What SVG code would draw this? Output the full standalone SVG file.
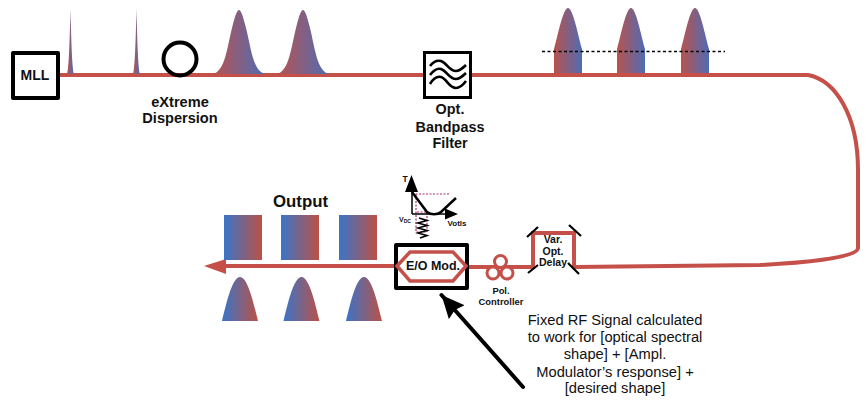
<svg xmlns="http://www.w3.org/2000/svg" width="867" height="402" viewBox="0 0 867 402">
<style>
text{font-family:"Liberation Sans",Arial,sans-serif;fill:#111;text-anchor:middle}
.b{font-weight:700}
.fib{fill:none;stroke:#c5504a;stroke-width:4}
.box{fill:#fff;stroke:#000;stroke-width:4;stroke-linejoin:round}
.mir{stroke:#000;stroke-width:2.2;fill:none}
.dot{stroke:#a8326e;stroke-width:1.200;stroke-dasharray:2 1.500;fill:none}
</style>
<defs>
<linearGradient id="rb"><stop offset="0" stop-color="#b8534f"/><stop offset="1" stop-color="#4f6cb4"/></linearGradient>
<linearGradient id="br"><stop offset="0" stop-color="#3a74c8"/><stop offset="1" stop-color="#bb5146"/></linearGradient>
<path id="wide" d="M-26 0C-14 -3 -12 -26 -7 -46C-4 -58 -2 -64 0 -64C2 -64 4 -58 7 -46C12 -26 14 -3 26 0Z"/>
<path id="tall" d="M-14 0L-14 -24C-10 -38 -5 -65 0 -65C5 -65 10 -38 14 -24L14 0Z"/>
<path id="dome" d="M-18 0C-14 -16 -8 -44 0 -44C8 -44 14 -16 18 0Z"/>
<marker id="head" markerUnits="userSpaceOnUse" markerWidth="26" markerHeight="24" refX="23" refY="10.500" orient="auto"><path d="M0 0L23 10.500L0 21L3 10.500Z" fill="#000"/></marker>
</defs>
<g id="connectors">
<path class="fib" d="M58 75H808C835 80 858 115 858 170V248C858 258 800 263 760 265L574 267"/>
<path class="fib" d="M467 267H533V233H574V267"/>
<path class="fib" d="M396 266H224"/>
<path d="M204 266L226 259V274Z" fill="#c5504a"/>
<path d="M523 387L441.500 295" stroke="#000" stroke-width="4" fill="none" marker-end="url(#head)" stroke-linecap="round"/>
</g>
<g id="pulses-in">
<path d="M67 74C69 70 70 30 70.500 9C71 30 72 70 74 74Z" fill="url(#rb)"/>
<path d="M133 74C135 70 136 30 136.500 9C137 30 138 70 140 74Z" fill="url(#rb)"/>
<use href="#wide" x="239" y="74" fill="url(#rb)"/>
<use href="#wide" x="303" y="74" fill="url(#rb)"/>
</g>
<g id="pulses-filtered">
<use href="#tall" x="568" y="73" fill="url(#rb)"/>
<use href="#tall" x="631" y="73" fill="url(#rb)"/>
<use href="#tall" x="695" y="73" fill="url(#rb)"/>
<path d="M542 51.500H725" stroke="#000" stroke-width="1.300" stroke-dasharray="3 2.500" fill="none"/>
</g>
<g id="output-pulses">
<rect x="224" y="215" width="38" height="45" fill="url(#br)"/>
<rect x="281" y="215" width="38" height="45" fill="url(#br)"/>
<rect x="339" y="215" width="38" height="45" fill="url(#br)"/>
<use href="#dome" x="240" y="321" fill="url(#br)"/>
<use href="#dome" x="301.500" y="321" fill="url(#br)"/>
<use href="#dome" x="364" y="321" fill="url(#br)"/>
<text class="b" x="300.500" y="207" font-size="16.800">Output</text>
</g>
<g id="mll">
<rect class="box" x="13" y="53" width="45" height="45"/>
<text class="b" x="35" y="80" font-size="14">MLL</text>
</g>
<g id="dispersion">
<circle cx="180" cy="59" r="16.500" fill="none" stroke="#000" stroke-width="4"/>
<text class="b" x="180" y="107" font-size="14.600">eXtreme</text>
<text class="b" x="180" y="123" font-size="14.600">Dispersion</text>
</g>
<g id="filter">
<rect x="424.500" y="52.500" width="46" height="45" fill="#fff" stroke="#000" stroke-width="3"/>
<path d="M430 66C433 62 437 60 441 61C447 63 449 71 456 71C460 71 463 68 466 65M430 75C433 71 437 68 441 69C447 71 449 79 456 79C460 79 463 76 466 73M430 84C433 79 437 76 441 77C447 79 449 88 456 88C460 88 463 85 466 81" fill="none" stroke="#000" stroke-width="2.600"/>
<text class="b" x="450" y="114" font-size="14.400">Opt.</text>
<text class="b" x="450" y="131.500" font-size="14.400">Bandpass</text>
<text class="b" x="450" y="148" font-size="14.400">Filter</text>
</g>
<g id="delay">
<path class="mir" d="M527 237L538 227M569 225L581 236M528 273L538 265M568 263L579 274"/>
<text class="b" x="553" y="243" font-size="10.500">Var.</text>
<text class="b" x="553" y="255" font-size="10.500">Opt.</text>
<text class="b" x="553" y="266" font-size="10.500">Delay</text>
</g>
<g id="polarization">
<circle cx="500.500" cy="261.500" r="6" fill="#fff" stroke="#c5504a" stroke-width="3"/>
<circle cx="493" cy="273" r="6" fill="#fff" stroke="#c5504a" stroke-width="3"/>
<circle cx="507" cy="273" r="6" fill="#fff" stroke="#c5504a" stroke-width="3"/>
<text class="b" x="501" y="294" font-size="9.400">Pol.</text>
<text class="b" x="501" y="305" font-size="9.400">Controller</text>
</g>
<g id="modulator">
<rect class="box" x="396" y="245" width="71" height="43"/>
<path d="M397 266L410 252H453L466 266L453 281H410Z" fill="none" stroke="#c5504a" stroke-width="3.500"/>
<text class="b" x="433" y="270" font-size="12.500">E/O Mod.</text>
</g>
<g id="transfer">
<path class="dot" d="M412 194H450M416 194V232H427V212H416"/>
<path d="M412 214V185M412 214H450" stroke="#000" stroke-width="1.500" fill="none"/>
<path d="M411.500 175L405 192H418Z M458 214L445 208.500V219.500Z" fill="#000"/>
<path d="M412 192L427 212C431 215 437 215 441 212L456 198" fill="none" stroke="#000" stroke-width="2.500"/>
<path d="M419 218L427 220.500L418 223L427 225.500L418 228L427 230.500L418 233L427 235.500L420 238" fill="none" stroke="#000" stroke-width="1.600"/>
<text class="b" x="405" y="182" font-size="8.500">T</text>
<text class="b" x="405" y="222" font-size="7">V<tspan font-size="5" dy="1">DC</tspan></text>
<text class="b" x="457" y="226" font-size="8">Votls</text>
</g>
<g id="note">
<text x="615" y="325" font-size="14.700">Fixed RF Signal calculated</text>
<text x="615" y="342" font-size="14.700">to work for [optical spectral</text>
<text x="615" y="359" font-size="14.700">shape] + [Ampl.</text>
<text x="615" y="377" font-size="14.700">Modulator’s response] +</text>
<text x="615" y="393" font-size="14.700">[desired shape]</text>
</g>
</svg>
